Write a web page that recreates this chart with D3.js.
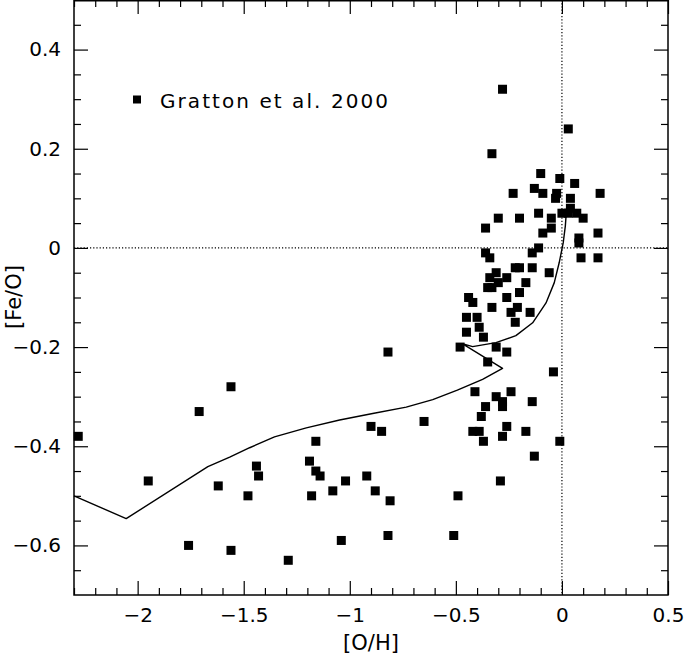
<!DOCTYPE html>
<html>
<head>
<meta charset="utf-8">
<script src="https://cdn.jsdelivr.net/npm/d3@7"></script>
<style>
  html, body { margin: 0; padding: 0; background: #fff; }
  svg text { font-family: "DejaVu Sans", sans-serif; fill: #000; }
</style>
</head>
<body>
<svg id="chart" width="685" height="655"></svg>
<script>
// Observed stars (Gratton et al. 2000): [O/H] and [Fe/O]
const obsOH = [
  -0.28,0.03,-0.33,-0.10,-0.01,0.06,-0.13,-0.23,-0.09,-0.025,0.18,-0.03,0.04,0.04,-0.30,-0.20,-0.11,-0.05,0.00,0.03,0.07,0.10,
  -0.36,-0.05,-0.09,0.17,0.08,0.08,-0.11,-0.14,-0.36,-0.34,0.09,0.17,-0.22,-0.20,-0.14,-0.06,-0.31,-0.34,-0.26,-0.30,-0.17,
  -0.35,-0.33,-0.20,-0.44,-0.42,-0.26,-0.33,-0.21,-0.24,-0.15,-0.45,-0.40,-0.39,-0.22,-0.45,-0.37,-0.48,-0.31,-0.26,
  -0.35,-0.04,-0.41,-0.24,-0.31,-0.28,-0.28,-0.14,-0.36,-0.38,-0.42,-0.39,-0.26,-0.17,-0.28,-0.37,-0.01,-0.13,-0.29,-0.49,-0.51,-0.65,
  -0.82,-1.56,-1.71,-2.28,-1.95,-1.62,-1.76,-1.56,-1.48,-1.44,-1.43,-0.90,-0.85,-1.16,-1.19,-1.16,-1.14,-0.92,-1.02,-1.18,-1.08,-0.88,-0.81,-1.29,-1.04,-0.82
];
const obsFeO = [
  0.32,0.24,0.19,0.15,0.14,0.13,0.12,0.11,0.11,0.11,0.11,0.10,0.10,0.08,0.06,0.06,0.07,0.06,0.07,0.07,0.07,0.06,
  0.04,0.04,0.03,0.03,0.02,0.01,0.00,-0.01,-0.01,-0.02,-0.02,-0.02,-0.04,-0.04,-0.04,-0.05,-0.05,-0.06,-0.06,-0.07,-0.07,
  -0.08,-0.08,-0.09,-0.10,-0.11,-0.10,-0.12,-0.12,-0.13,-0.13,-0.14,-0.14,-0.16,-0.15,-0.17,-0.18,-0.20,-0.20,-0.21,
  -0.23,-0.25,-0.29,-0.29,-0.30,-0.31,-0.32,-0.31,-0.32,-0.34,-0.37,-0.37,-0.36,-0.37,-0.38,-0.39,-0.39,-0.42,-0.47,-0.50,-0.58,-0.35,
  -0.21,-0.28,-0.33,-0.38,-0.47,-0.48,-0.60,-0.61,-0.50,-0.44,-0.46,-0.36,-0.37,-0.39,-0.43,-0.45,-0.46,-0.46,-0.47,-0.50,-0.49,-0.49,-0.51,-0.63,-0.59,-0.58
];

// Model track
const modelOH  = [-2.30,-2.054,-1.669,-1.566,-1.472,-1.355,-1.205,-1.048,-0.892,-0.734,-0.609,-0.493,-0.374,-0.280,
                  -0.470,-0.421,-0.311,-0.217,-0.138,-0.075,-0.036,-0.013,0.006,0.016,0.023];
const modelFeO = [-0.500,-0.546,-0.441,-0.422,-0.403,-0.381,-0.363,-0.347,-0.334,-0.321,-0.306,-0.287,-0.265,-0.243,
                  -0.193,-0.199,-0.191,-0.177,-0.151,-0.111,-0.070,-0.030,0.010,0.044,0.085];

// Axes ticks and labels
const xMajorTicks = [-2, -1.5, -1, -0.5, 0, 0.5];
const xTickLabels = ["\u22122", "\u22121.5", "\u22121", "\u22120.5", "0", "0.5"];
const yMajorTicks = [-0.6, -0.4, -0.2, 0, 0.2, 0.4];
const yTickLabels = ["\u22120.6", "\u22120.4", "\u22120.2", "0", "0.2", "0.4"];
const xMinorTicks = [-2.3,-2.2,-2.1,-1.9,-1.8,-1.7,-1.6,-1.4,-1.3,-1.2,-1.1,-0.9,-0.8,-0.7,-0.6,-0.4,-0.3,-0.2,-0.1,0.1,0.2,0.3,0.4];
const yMinorTicks = [-0.65,-0.55,-0.5,-0.45,-0.35,-0.3,-0.25,-0.15,-0.1,-0.05,0.05,0.1,0.15,0.25,0.3,0.35,0.45];
const xTitle = "[O/H]";
const yTitle = "[Fe/O]";
const legendLabel = "Gratton et al. 2000";

const L = 74, R = 668, T = 0, B = 595;
const svg = d3.select("#chart");
const x = d3.scaleLinear().domain([-2.3, 0.5]).range([L, R]);
const y = d3.scaleLinear().domain([-0.7, 0.5]).range([B, T]);

const MAJ = 14, MIN = 7;

function styleAxis(g) {
  g.select(".domain").remove();
  g.selectAll("line").attr("stroke", "#000").attr("stroke-width", 1.2);
  g.selectAll("text").style("font-size", "20px").attr("fill", "#000");
}

// Bottom axis
svg.append("g").attr("transform", `translate(0,${B})`)
  .call(d3.axisBottom(x).tickValues(xMajorTicks).tickSize(-MAJ).tickPadding(13)
    .tickFormat((d, i) => xTickLabels[i]))
  .call(styleAxis);
svg.append("g").attr("transform", `translate(0,${B})`)
  .call(d3.axisBottom(x).tickValues(xMinorTicks).tickSize(-MIN).tickFormat(""))
  .call(styleAxis);
// Top axis
svg.append("g").attr("transform", `translate(0,${T})`)
  .call(d3.axisTop(x).tickValues(xMajorTicks).tickSize(-MAJ).tickFormat(""))
  .call(styleAxis);
svg.append("g").attr("transform", `translate(0,${T})`)
  .call(d3.axisTop(x).tickValues(xMinorTicks).tickSize(-MIN).tickFormat(""))
  .call(styleAxis);
// Left axis
svg.append("g").attr("transform", `translate(${L},0)`)
  .call(d3.axisLeft(y).tickValues(yMajorTicks).tickSize(-MAJ).tickPadding(13)
    .tickFormat((d, i) => yTickLabels[i]))
  .call(styleAxis);
svg.append("g").attr("transform", `translate(${L},0)`)
  .call(d3.axisLeft(y).tickValues(yMinorTicks).tickSize(-MIN).tickFormat(""))
  .call(styleAxis);
// Right axis
svg.append("g").attr("transform", `translate(${R},0)`)
  .call(d3.axisRight(y).tickValues(yMajorTicks).tickSize(-MAJ).tickFormat(""))
  .call(styleAxis);
svg.append("g").attr("transform", `translate(${R},0)`)
  .call(d3.axisRight(y).tickValues(yMinorTicks).tickSize(-MIN).tickFormat(""))
  .call(styleAxis);

// Frame
svg.append("rect").attr("x", L).attr("y", T + 0.75).attr("width", R - L).attr("height", B - T - 0.75)
  .attr("fill", "none").attr("stroke", "#000").attr("stroke-width", 1.5);

// Dotted reference lines
svg.append("line").attr("x1", x(-2.3)).attr("x2", x(0.5)).attr("y1", y(0)).attr("y2", y(0))
  .attr("stroke", "#000").attr("stroke-width", 1.2).attr("stroke-dasharray", "1.2,2");
svg.append("line").attr("x1", x(0)).attr("x2", x(0)).attr("y1", y(0.5)).attr("y2", y(-0.7))
  .attr("stroke", "#000").attr("stroke-width", 1.2).attr("stroke-dasharray", "1.2,2");

// Model line
const modelData = modelOH.map((v, i) => [v, modelFeO[i]]);
svg.append("path").datum(modelData)
  .attr("d", d3.line().x(d => x(d[0])).y(d => y(d[1])).curve(d3.curveLinear))
  .attr("fill", "none").attr("stroke", "#000").attr("stroke-width", 1.4)
  .attr("stroke-linejoin", "round");

// Observed points
const S = 9;
const obs = obsOH.map((v, i) => [v, obsFeO[i]]);
svg.append("g").selectAll("rect").data(obs).join("rect")
  .attr("x", d => x(d[0]) - S / 2).attr("y", d => y(d[1]) - S / 2)
  .attr("width", S).attr("height", S).attr("fill", "#000");

// Legend
svg.append("rect").attr("x", 133).attr("y", 95.5).attr("width", 8).attr("height", 8).attr("fill", "#000");
svg.append("text").attr("x", 160).attr("y", 107.5).style("font-size", "20px")
  .attr("textLength", 228).attr("lengthAdjust", "spacing").text(legendLabel);

// Axis titles
svg.append("text").attr("x", (L + R) / 2).attr("y", 650).attr("text-anchor", "middle")
  .style("font-size", "21px").text(xTitle);
svg.append("text").attr("transform", `translate(21,297) rotate(-90)`).attr("text-anchor", "middle")
  .style("font-size", "21px").text(yTitle);
</script>
</body>
</html>
